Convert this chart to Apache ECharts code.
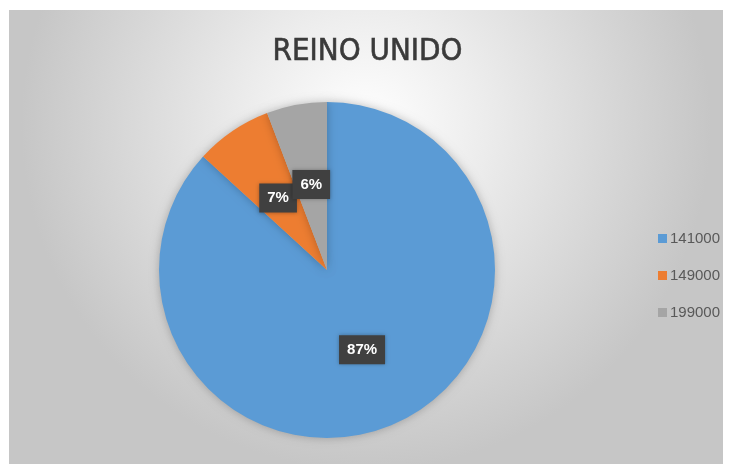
<!DOCTYPE html>
<html>
<head>
<meta charset="utf-8">
<script src="https://cdn.jsdelivr.net/npm/echarts@6/dist/echarts.min.js"></script>
<style>
  html, body { margin: 0; padding: 0; background: #ffffff; }
  #chart { width: 735px; height: 464px; }
</style>
</head>
<body>
<div id="chart"></div>
<script>
var categories = ['141000', '149000', '199000'];
var values = [86.8, 7.4, 5.8];
var colors = ['#5B9BD5', '#ED7D31', '#A5A5A5'];

var pieData = categories.map(function (c, i) {
    return { name: c, value: values[i], itemStyle: { color: colors[i] } };
});

var myChart = echarts.init(document.getElementById('chart'));
var option = {
    backgroundColor: '#ffffff',
    animation: false,
    graphic: [{
        type: 'rect',
        z: -10,
        silent: true,
        shape: { x: 9, y: 10, width: 714, height: 460 },
        style: {
            fill: {
                type: 'radial', x: 0.5, y: 0.25, r: 0.75,
                colorStops: [
                    { offset: 0, color: '#ffffff' },
                    { offset: 0.35, color: '#ececec' },
                    { offset: 1, color: '#c6c6c6' }
                ]
            }
        }
    }],
    title: {
        text: 'REINO UNIDO',
        left: 'center',
        top: 31,
        textStyle: {
            fontFamily: 'DejaVu Sans Condensed, sans-serif',
            fontSize: 31,
            fontWeight: 'normal',
            color: '#3a3a3a',
            textBorderColor: '#3a3a3a',
            textBorderWidth: 0.6
        }
    },
    legend: {
        orient: 'vertical',
        left: 653,
        top: 226,
        itemWidth: 9,
        itemHeight: 9,
        itemGap: 22,
        icon: 'rect',
        data: categories,
        textStyle: { color: '#595959', fontSize: 15, fontFamily: 'Liberation Sans, sans-serif', padding: [0, 0, 0, -2] }
    },
    series: [{
        type: 'pie',
        center: [327, 270],
        radius: 168,
        startAngle: 90,
        clockwise: true,
        data: pieData,
        labelLayout: { hideOverlap: false },
        itemStyle: {
            shadowBlur: 10,
            shadowColor: 'rgba(0,0,0,0.25)'
        },
        label: {
            show: true,
            position: 'inside',
            formatter: function (p) { return Math.round(p.value) + '%'; },
            color: '#ffffff',
            fontSize: 15,
            fontWeight: 'bold',
            fontFamily: 'Liberation Sans, sans-serif',
            backgroundColor: '#404040',
            padding: [7, 8],
            shadowBlur: 4,
            shadowColor: 'rgba(0,0,0,0.3)'
        },
        labelLine: { show: false },
        emphasis: { disabled: true }
    }]
};
myChart.setOption(option);
</script>
</body>
</html>
